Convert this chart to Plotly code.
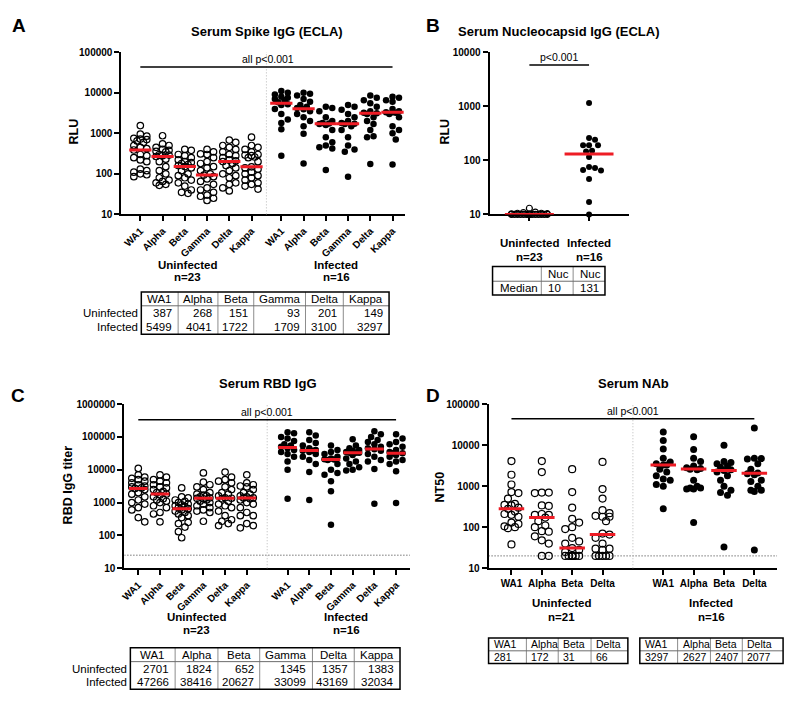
import numpy as np
import plotly.graph_objects as go

W, H = 800, 704
FONT = "Liberation Sans, Arial, sans-serif"

# ---------------- data ----------------
variants6 = ["WA1", "Alpha", "Beta", "Gamma", "Delta", "Kappa"]
variants4 = ["WA1", "Alpha", "Beta", "Delta"]
groups = ["Uninfected", "Infected"]

# Panel A: Serum Spike IgG (ECLA), RLU
spike_uninf = [
    [1550, 950, 850, 750, 720, 700, 650, 600, 500, 450, 420, 387, 300, 280, 250, 220, 200, 130, 120, 110, 100, 95, 85],
    [870, 550, 500, 450, 400, 380, 360, 350, 300, 290, 280, 268, 230, 200, 150, 120, 100, 80, 70, 65, 60, 55, 52],
    [400, 380, 300, 280, 250, 220, 200, 190, 180, 170, 160, 151, 140, 120, 100, 90, 80, 70, 60, 50, 40, 35, 33],
    [400, 350, 310, 300, 250, 200, 180, 150, 140, 120, 100, 93, 85, 75, 65, 55, 45, 40, 35, 30, 28, 25, 22],
    [680, 600, 500, 450, 400, 350, 300, 280, 250, 220, 210, 201, 180, 160, 140, 120, 100, 90, 80, 60, 55, 45, 38],
    [800, 500, 450, 400, 350, 300, 290, 280, 260, 250, 200, 149, 140, 130, 110, 100, 90, 80, 70, 60, 55, 50, 42],
]
spike_inf = [
    [11000, 10000, 9000, 8000, 7500, 7000, 6500, 5800, 5200, 5000, 4000, 3000, 2200, 1800, 1250, 280],
    [10000, 9500, 8500, 7000, 6000, 5000, 4500, 4200, 3900, 3500, 3000, 2500, 2000, 1500, 980, 180],
    [4500, 4200, 3500, 2500, 2000, 1800, 1750, 1700, 1600, 1200, 800, 600, 500, 450, 420, 125],
    [5000, 4500, 3800, 3000, 2500, 2000, 1800, 1720, 1700, 1500, 1200, 800, 500, 400, 350, 85],
    [8500, 7500, 6500, 5500, 4500, 3500, 3200, 3100, 3000, 2500, 2000, 1700, 1200, 850, 800, 175],
    [8000, 7500, 6500, 6000, 4000, 3500, 3300, 3300, 3200, 3000, 2500, 1500, 1200, 1000, 700, 170],
]
spike_median_uninf = [387, 268, 151, 93, 201, 149]
spike_median_inf = [5499, 4041, 1722, 1709, 3100, 3297]
spike_n = [23, 16]

# Panel B: Serum Nucleocapsid IgG (ECLA), RLU
nuc_uninf = [13, 11, 10.8, 10.5, 10.5, 10.3, 10.2, 10, 10, 10, 10, 10, 10, 10, 10, 10, 10, 10, 10, 10, 10, 10, 10]
nuc_inf = [1150, 260, 240, 190, 190, 190, 150, 145, 115, 75, 72, 66, 65, 45, 17, 10]
nuc_median = [10, 131]
nuc_table_header = ["", "Nuc", "Nuc"]
nuc_row_label = "Median"
nuc_n = [23, 16]

# Panel C: Serum RBD IgG titer
rbd_uninf = [
    [11000, 7000, 6000, 5500, 5000, 4500, 4000, 3500, 3200, 3000, 2800, 2701, 2500, 2000, 1800, 1500, 1200, 1000, 900, 700, 600, 350, 260],
    [7000, 6000, 5000, 4500, 4000, 3500, 3000, 2800, 2500, 2200, 2000, 1824, 1700, 1500, 1300, 1200, 1100, 1000, 800, 700, 500, 450, 260],
    [2800, 1500, 1400, 1200, 1100, 1000, 900, 850, 800, 750, 700, 652, 600, 550, 500, 450, 400, 350, 250, 230, 180, 130, 85],
    [8000, 4200, 3500, 3000, 2500, 2000, 1800, 1700, 1600, 1500, 1400, 1345, 1300, 1200, 1100, 1000, 900, 800, 700, 600, 550, 500, 270],
    [8500, 6000, 5000, 4500, 4000, 3000, 2500, 2000, 1800, 1600, 1400, 1357, 1300, 1100, 900, 800, 700, 550, 400, 300, 270, 230, 200],
    [7000, 4000, 3500, 3200, 3000, 2500, 2000, 1800, 1600, 1500, 1400, 1383, 1300, 1200, 1000, 900, 700, 500, 400, 400, 230, 200, 170],
]
rbd_inf = [
    [140000, 130000, 100000, 90000, 75000, 60000, 55000, 50000, 45000, 40000, 35000, 30000, 25000, 18000, 10000, 1300],
    [140000, 110000, 80000, 65000, 55000, 45000, 40000, 38000, 38000, 35000, 30000, 25000, 20000, 15000, 8500, 1200],
    [55000, 40000, 35000, 30000, 25000, 22000, 21000, 20500, 20000, 15000, 10000, 8000, 7000, 4500, 2200, 210],
    [85000, 55000, 45000, 40000, 38000, 35000, 33000, 33000, 33000, 28000, 22000, 18000, 15000, 12000, 10000, 9500],
    [150000, 120000, 100000, 80000, 70000, 60000, 50000, 45000, 42000, 38000, 30000, 25000, 20000, 18000, 10500, 920],
    [120000, 90000, 70000, 60000, 50000, 40000, 35000, 32000, 32000, 28000, 25000, 20000, 18000, 15000, 9000, 980],
]
rbd_median_uninf = [2701, 1824, 652, 1345, 1357, 1383]
rbd_median_inf = [47266, 38416, 20627, 33099, 43169, 32034]
rbd_n = [23, 16]
rbd_lod = 25

# Panel D: Serum NAb, NT50
nab_uninf = [
    [4100, 1900, 1100, 720, 680, 500, 370, 350, 340, 300, 281, 240, 210, 200, 180, 130, 120, 105, 100, 95, 38],
    [4100, 2200, 700, 680, 700, 340, 330, 210, 200, 200, 172, 140, 110, 100, 80, 78, 60, 48, 40, 20, 20],
    [2600, 720, 300, 160, 130, 100, 90, 55, 45, 40, 31, 28, 25, 20, 20, 20, 20, 20, 20, 20, 20],
    [3900, 850, 500, 260, 220, 190, 180, 180, 140, 70, 66, 55, 40, 30, 30, 28, 20, 20, 20, 20, 20],
]
nab_inf = [
    [21000, 13000, 8000, 4800, 3900, 3500, 3300, 3300, 2600, 2200, 1800, 1500, 1400, 1100, 1000, 280],
    [16000, 7800, 4800, 4000, 3100, 2800, 2700, 2600, 2500, 1400, 1000, 900, 900, 850, 850, 130],
    [10000, 4000, 3800, 3500, 3100, 2900, 2500, 2400, 2200, 1800, 1400, 1000, 800, 700, 600, 33],
    [26000, 4800, 4700, 4600, 3500, 2600, 2100, 2000, 1900, 1400, 1300, 1000, 800, 800, 740, 28],
]
nab_median_uninf = [281, 172, 31, 66]
nab_median_inf = [3297, 2627, 2407, 2077]
nab_n = [21, 16]
nab_lod = 20

# ---------------- helpers ----------------
fig = go.Figure()
RED = "#ee1c25"


def px2x(p):
    return p / W


def px2y(p):
    return 1 - p / H


def ann(text, x, y, size, bold=False, xanchor="center", yanchor="middle", angle=0):
    fig.add_annotation(text=text, x=px2x(x), y=px2y(y), xref="paper", yref="paper",
                       showarrow=False, xanchor=xanchor, yanchor=yanchor, textangle=angle,
                       font=dict(family=FONT, size=size, color="black",
                                 weight="bold" if bold else "normal"))


def pline(x0, y0, x1, y1, color="black", width=1, dash="solid", xref="paper", yref="paper"):
    fig.add_shape(type="line", x0=x0, y0=y0, x1=x1, y1=y1, xref=xref, yref=yref,
                  line=dict(color=color, width=width, dash=dash))


def swarm(values, ppx, ppd, diam, maxhw):
    ys = np.log10(np.asarray(values, dtype=float)) * ppd
    order = np.argsort(-ys, kind="stable")
    step = diam / 2.0
    cands = [0.0]
    for i in range(1, int(maxhw // step) + 1):
        cands += [i * step, -i * step]
    placed = []
    off = np.zeros(len(ys))
    for idx in order:
        y = ys[idx]
        chosen, bestc, bestd = None, 0.0, -1.0
        for c in cands:
            d = min([np.hypot(c - a, y - b) for a, b in placed], default=1e9)
            if d >= diam:
                chosen = c
                break
            if d > bestd:
                bestd, bestc = d, c
        if chosen is None:
            chosen = bestc
        placed.append((chosen, y))
        off[idx] = chosen / ppx
    return off


def axis_names(k):
    s = "" if k == 1 else str(k)
    return "x" + s, "y" + s, "xaxis" + s, "yaxis" + s


def setup_axes(k, xdom, ydom, xr, yr, tickpos, ticktext, tickangle, showlabels=True):
    xn, yn, xk, yk = axis_names(k)
    ytv = [10 ** e for e in range(yr[0], yr[1] + 1)]
    fig.update_layout(**{
        xk: dict(domain=[px2x(xdom[0]), px2x(xdom[1])], range=list(xr), anchor=yn,
                 showline=True, linecolor="black", linewidth=2, ticks="outside",
                 ticklen=5, tickwidth=1.5, tickcolor="black", tickvals=tickpos,
                 ticktext=ticktext, tickangle=tickangle, showticklabels=showlabels,
                 tickfont=dict(family=FONT, size=10, color="black", weight="bold"),
                 showgrid=False, zeroline=False, layer="below traces"),
        yk: dict(domain=[px2y(ydom[1]), px2y(ydom[0])], type="log", range=list(yr),
                 anchor=xn, showline=True, linecolor="black", linewidth=2,
                 ticks="outside", ticklen=5, tickwidth=1.5, tickcolor="black",
                 tickvals=ytv, ticktext=[str(v) for v in ytv],
                 tickfont=dict(family=FONT, size=10, color="black", weight="bold"),
                 showgrid=False, zeroline=False, layer="below traces"),
    })
    ppx = (xdom[1] - xdom[0]) / (xr[1] - xr[0])
    ppd = (ydom[1] - ydom[0]) / (yr[1] - yr[0])
    return ppx, ppd


def add_group(k, centers, series, filled, size, ppx, ppd, maxhw):
    xn, yn, _, _ = axis_names(k)
    for c, vals in zip(centers, series):
        off = swarm(vals, ppx, ppd, size, maxhw)
        if filled:
            mk = dict(symbol="circle", size=size, color="black", line=dict(width=0))
        else:
            mk = dict(symbol="circle-open", size=size, color="black", line=dict(width=1.2, color="black"))
        fig.add_trace(go.Scatter(x=c + off, y=vals, mode="markers", marker=mk,
                                 xaxis=xn, yaxis=yn, cliponaxis=False, hoverinfo="skip"))


def add_medians(k, centers, medians, hw):
    xn, yn, _, _ = axis_names(k)
    xs, ys = [], []
    for c, m in zip(centers, medians):
        xs += [c - hw, c + hw, None]
        ys += [m, m, None]
    fig.add_trace(go.Scatter(x=xs, y=ys, mode="lines", line=dict(color=RED, width=3),
                             xaxis=xn, yaxis=yn, cliponaxis=False, hoverinfo="skip"))


def add_lod(k, xr, lod):
    xn, yn, _, _ = axis_names(k)
    fig.add_trace(go.Scatter(x=list(xr), y=[lod, lod], mode="lines",
                             line=dict(color="#333333", width=1, dash="1px,2px"),
                             xaxis=xn, yaxis=yn, hoverinfo="skip"))


def add_divider(k, xpos):
    xn, yn, _, _ = axis_names(k)
    pline(xpos, 0, xpos, 1, color="#b8b8b8", width=1, dash="1px,2px", xref=xn, yref=yn + " domain")


def add_pbar(k, x0, x1, ypx, text, text_ypx, text_xpx, size=10.5):
    xn, _, _, _ = axis_names(k)
    pline(x0, px2y(ypx), x1, px2y(ypx), width=1.5, xref=xn, yref="paper")
    ann(text, text_xpx, text_ypx, size)


def draw_table(left, top, colw, rowh, header, rows, fsize, align_cells, align_header,
               pad, row_labels=None):
    xs = np.concatenate([[left], left + np.cumsum(colw)])
    ys = np.concatenate([[top], top + np.cumsum(rowh)])
    right, bottom = xs[-1], ys[-1]
    for x in xs[1:-1]:
        pline(px2x(x), px2y(top), px2x(x), px2y(bottom), color="#8c8c8c", width=1)
    pline(px2x(left), px2y(ys[1]), px2x(right), px2y(ys[1]), color="#6c6c6c", width=1)
    fig.add_shape(type="rect", x0=px2x(left), y0=px2y(bottom), x1=px2x(right), y1=px2y(top),
                  xref="paper", yref="paper", line=dict(color="black", width=1.5))
    all_rows = [header] + rows
    for r, rv in enumerate(all_rows):
        cy = (ys[r] + ys[r + 1]) / 2
        al = align_header if r == 0 else align_cells
        for j, v in enumerate(rv):
            if al == "left":
                ann(str(v), xs[j] + pad, cy, fsize, xanchor="left")
            elif al == "right":
                ann(str(v), xs[j + 1] - pad, cy, fsize, xanchor="right")
            else:
                ann(str(v), (xs[j] + xs[j + 1]) / 2, cy, fsize)
    if row_labels:
        for r, lab in enumerate(row_labels):
            cy = (ys[r + 1] + ys[r + 2]) / 2
            ann(lab, left - 1, cy, fsize, xanchor="right")


# ---------------- Panel A ----------------
A_unc = list(range(6))
A_inc = [6.34 + i for i in range(6)]
A_xr = (-0.85, 11.9)
ppx, ppd = setup_axes(1, (118, 403), (47, 212), A_xr, (1, 5), A_unc + A_inc,
                      variants6 + variants6, -45)
add_divider(1, (A_unc[-1] + A_inc[0]) / 2)
add_group(1, A_unc, spike_uninf, False, 6.5, ppx, ppd, 7)
add_group(1, A_inc, spike_inf, True, 6.5, ppx, ppd, 7)
add_medians(1, A_unc, spike_median_uninf, 0.5)
add_medians(1, A_inc, spike_median_inf, 0.5)
add_pbar(1, A_unc[0], A_inc[-1], 62, "all p<0.001", 54, 265)
ann("A", 15, 20, 19, bold=True)
ann("Serum Spike IgG (ECLA)", 264, 26, 13, bold=True)
ann("RLU", 70, 128, 12.5, bold=True, angle=-90)
ann(groups[0], 184, 263, 11.5, bold=True)
ann("n=%d" % spike_n[0], 184, 276, 11.5, bold=True)
ann(groups[1], 334, 263, 11.5, bold=True)
ann("n=%d" % spike_n[1], 334, 276, 11.5, bold=True)
draw_table(138, 291, [37, 40, 36, 52, 38, 46], [14, 14.5, 14.5], variants6,
           [spike_median_uninf, spike_median_inf], 11.5, "right", "center", 4,
           row_labels=groups)

# ---------------- Panel B ----------------
B_c = [0, 1]
B_xr = (-0.667, 1.667)
ppx, ppd = setup_axes(2, (488, 628), (47, 212), B_xr, (1, 4), B_c, ["", ""], 0,
                      showlabels=False)
add_group(2, [B_c[0]], [nuc_uninf], False, 6, ppx, ppd, 19)
add_group(2, [B_c[1]], [nuc_inf], True, 6, ppx, ppd, 17)
add_medians(2, B_c, nuc_median, 0.41)
add_pbar(2, B_c[0], B_c[1], 60, "p<0.001", 52, 558)
ann("B", 431, 20, 19, bold=True)
ann("Serum Nucleocapsid IgG (ECLA)", 558, 26, 13, bold=True)
ann("RLU", 443, 128, 12.5, bold=True, angle=-90)
ann(groups[0], 528, 241, 11.5, bold=True)
ann("n=%d" % nuc_n[0], 528, 255, 11.5, bold=True)
ann(groups[1], 588, 241, 11.5, bold=True)
ann("n=%d" % nuc_n[1], 588, 255, 11.5, bold=True)
draw_table(491, 265, [49, 32, 32], [15, 14], nuc_table_header,
           [[nuc_row_label] + nuc_median], 11.5, "left", "left", 5)

# ---------------- Panel C ----------------
C_unc = list(range(6))
C_inc = [6.88 + i for i in range(6)]
C_xr = (-0.64, 12.52)
ppx, ppd = setup_axes(3, (121, 408), (405, 572), C_xr, (1, 6), C_unc + C_inc,
                      variants6 + variants6, -45)
add_divider(3, (C_unc[-1] + C_inc[0]) / 2)
add_lod(3, C_xr, rbd_lod)
add_group(3, C_unc, rbd_uninf, False, 6.5, ppx, ppd, 6.5)
add_group(3, C_inc, rbd_inf, True, 6.5, ppx, ppd, 6.5)
add_medians(3, C_unc, rbd_median_uninf, 0.43)
add_medians(3, C_inc, rbd_median_inf, 0.43)
add_pbar(3, C_unc[0], C_inc[-1], 421, "all p<0.001", 413, 264)
ann("C", 14, 396, 19, bold=True)
ann("Serum RBD IgG", 265, 384, 13, bold=True)
ann("RBD IgG titer", 64, 487, 12.5, bold=True, angle=-90)
ann(groups[0], 193, 622, 11.5, bold=True)
ann("n=%d" % rbd_n[0], 193, 635, 11.5, bold=True)
ann(groups[1], 344, 622, 11.5, bold=True)
ann("n=%d" % rbd_n[1], 344, 635, 11.5, bold=True)
draw_table(127, 653, [45, 43, 42, 53, 42, 46], [14, 14, 14], variants6,
           [rbd_median_uninf, rbd_median_inf], 11.5, "right", "center", 4,
           row_labels=groups)

# ---------------- Panel D ----------------
D_unc = list(range(4))
D_inc = [5 + i for i in range(4)]
D_xr = (-0.754, 8.75)
ppx, ppd = setup_axes(4, (487, 777), (405, 572), D_xr, (1, 5), D_unc + D_inc,
                      variants4 + variants4, 0)
add_divider(4, (D_unc[-1] + D_inc[0]) / 2)
add_lod(4, D_xr, nab_lod)
add_group(4, D_unc, nab_uninf, False, 7, ppx, ppd, 8)
add_group(4, D_inc, nab_inf, True, 7, ppx, ppd, 7)
add_medians(4, D_unc, nab_median_uninf, 0.42)
add_medians(4, D_inc, nab_median_inf, 0.42)
add_pbar(4, D_unc[0], D_inc[-1], 420, "all p<0.001", 412, 632)
ann("D", 431, 396, 19, bold=True)
ann("Serum NAb", 633, 384, 13, bold=True)
ann("NT50", 438, 489, 12.5, bold=True, angle=-90)
ann(groups[0], 560, 607, 11.5, bold=True)
ann("n=%d" % nab_n[0], 560, 622, 11.5, bold=True)
ann(groups[1], 711, 607, 11.5, bold=True)
ann("n=%d" % nab_n[1], 711, 622, 11.5, bold=True)
draw_table(487, 643, [38, 32, 33, 37], [13, 13], variants4, [nab_median_uninf],
           10.5, "left", "left", 3)
draw_table(639, 643, [38, 33, 32, 41], [13, 13], variants4, [nab_median_inf],
           10.5, "left", "left", 3)

fig.update_layout(width=W, height=H, margin=dict(l=0, r=0, t=0, b=0),
                  plot_bgcolor="white", paper_bgcolor="white", showlegend=False)

fig.write_html(
    "out.html",
    config={"displayModeBar": False},
    post_script="document.documentElement.style.margin='0';"
                "document.body.style.margin='0';document.body.style.padding='0';"
                "document.body.style.overflow='hidden';",
)
